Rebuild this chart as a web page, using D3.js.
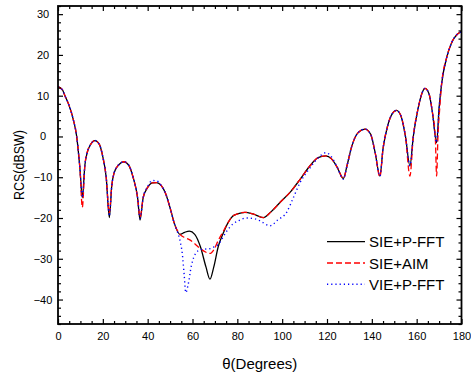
<!DOCTYPE html>
<html>
<head>
<meta charset="utf-8">
<script src="https://cdn.jsdelivr.net/npm/d3@7"></script>
<style>
  body { margin: 0; background: #fff; }
  text { font-family: "Liberation Sans", Arial, sans-serif; fill: #000; }
</style>
</head>
<body>
<svg id="chart"></svg>
<script>
// angles (degrees) and RCS values (dBsw)
let thetaSie = [0, 2, 3.1, 5, 6.8, 8.3, 9.8, 10.85, 12, 13, 14.5, 16.5, 18.5, 20, 21.5, 22.9, 24, 25, 27, 29.4, 31.5, 33.5, 35.5, 36.6, 38, 40, 42, 44, 46, 48, 50, 52, 54.4, 56.5, 58.6, 61, 63.5, 66, 67.8, 69.5, 71.5, 73.5, 76, 78, 80, 83.4, 87, 91.6, 95, 99, 104, 108, 112, 116, 119.5, 122, 124.5, 127.3, 129, 131, 134, 137, 139.5, 141.5, 143.6, 145, 147, 149, 151, 153, 155, 157, 158.5, 160.5, 162.5, 163.7, 165.5, 167, 168.9, 170, 171.2, 173.4, 175.6, 178, 180]
let sieFft = [12.2, 11.4, 10, 7.5, 4.2, 0.15, -8, -15, -7, -4, -2, -1, -2, -5, -10, -19.9, -12, -9, -7, -6.2, -7, -10, -15, -20.5, -15, -12.5, -11.4, -11.3, -12, -14, -17.5, -21.5, -24, -23.5, -23.2, -24, -27, -32, -35, -32, -27, -24, -21, -19.5, -19, -18.6, -19, -19.9, -18.5, -16.2, -13.4, -10.5, -7.5, -5.2, -4.75, -5.5, -7.5, -10.3, -7, -2.5, 1, 1.8, 0.5, -4, -9.7, -3, 2.5, 5.5, 6.4, 5, 0, -7.2, 0, 6.5, 10.8, 11.8, 10.5, 6, -1.5, 7, 13.2, 19.4, 23, 25, 25.7]

let thetaAim = [0, 2, 3.1, 5, 6.8, 8.3, 9.8, 10.85, 12, 13, 14.5, 16.5, 18.5, 20, 21.5, 22.9, 24, 25, 27, 29.4, 31.5, 33.5, 35.5, 36.6, 38, 40, 42, 44, 46, 48, 50, 52, 54.4, 56.5, 58.6, 61, 63.5, 66, 67.8, 69.5, 71.5, 73.5, 76, 78, 80, 83.4, 87, 91.6, 95, 99, 104, 108, 112, 116, 119.5, 122, 124.5, 127.3, 129, 131, 134, 137, 139.5, 141.5, 143.6, 145, 147, 149, 151, 153, 155, 157, 158.5, 160.5, 162.5, 163.7, 165.5, 167, 168.3, 168.9, 169.5, 170.3, 171.2, 173.4, 175.6, 178, 180]
let sieAim = [12.2, 11.4, 10, 7.5, 4.2, 0.15, -8, -17.4, -7, -4, -2, -1, -2, -5, -10, -18.7, -12, -9, -7, -6.2, -7, -10, -15, -19.8, -15, -12.5, -11.4, -11.3, -12, -14, -17.5, -21.5, -24, -24.8, -25.3, -26.3, -27.5, -28.4, -28.7, -27.8, -25.5, -23.5, -21, -19.5, -19, -18.6, -19, -19.9, -18.5, -16.2, -13.4, -10.5, -7.5, -5.2, -4.75, -5.5, -7.5, -10.3, -7, -2.5, 1, 1.8, 0.5, -4, -9.9, -3, 2.5, 5.5, 6.4, 5, 0, -9.7, 0, 6.5, 10.8, 11.8, 10.5, 6, 0, -9.7, 0, 7, 13.2, 19.4, 23, 25, 25.7]

let thetaVie = [0, 2, 3.1, 5, 6.8, 8.3, 9.8, 10.85, 12, 13, 14.5, 16.5, 18.5, 20, 21.5, 22.9, 24, 25, 27, 29.4, 31.5, 33.5, 35.5, 36.6, 38, 40, 42, 44, 46, 48, 50, 52, 53, 54.4, 55.5, 56.3, 57, 58, 59.5, 61.5, 63.5, 66, 68, 70, 71.5, 73.5, 75.2, 78, 80.4, 84, 88.6, 91, 94.6, 98, 102, 105, 108, 112, 116, 119.5, 122, 124.5, 127.3, 129, 131, 134, 137, 139.5, 141.5, 143.6, 145, 147, 149, 151, 153, 155, 157, 158.5, 160.5, 162.5, 163.7, 165.5, 167, 168.9, 170, 171.2, 173.4, 175.6, 178, 180]
let vieFft = [12.2, 11.4, 10, 7.5, 4.2, 0.15, -8, -15, -7, -4, -2, -1, -2, -5, -10, -19.5, -12, -9, -7, -6.2, -7, -10, -15, -20, -15, -12.3, -10.8, -10.9, -12, -14, -17.5, -21.5, -23, -25.5, -29, -34, -38.3, -36.5, -31.7, -28.6, -27.8, -27.6, -27.5, -27, -26.5, -24.8, -23.3, -21.5, -20.7, -20, -20.3, -21, -21.9, -20.5, -18.6, -15, -11.3, -8, -5.3, -4, -5, -7.5, -10.5, -7, -2.5, 1, 1.8, 0.5, -4, -9.7, -3, 2.5, 5.5, 6.4, 5, 0, -7.2, 0, 6.5, 10.8, 11.8, 10.5, 6, -1.5, 7, 13.2, 19.4, 23, 25, 25.7]

let seriesNames = ['SIE+P-FFT', 'SIE+AIM', 'VIE+P-FFT']
let yTickValues = [30, 20, 10, 0, -10, -20, -30, -40]
let xTickValues = [0, 20, 40, 60, 80, 100, 120, 140, 160, 180]

let width = 471
let height = 377
let padLeft = 58
let padRight = 461.5
let padTop = 6
let padBottom = 324

let svg = d3.select('#chart')
    .attr('width', width)
    .attr('height', height)

let xScale = d3.scaleLinear().domain([0, 180]).range([padLeft, padRight])
let yScale = d3.scaleLinear().domain([-46, 32]).range([padBottom, padTop])

// clip the curves to the frame
svg.append('clipPath').attr('id', 'plotclip')
    .append('rect')
    .attr('x', padLeft).attr('y', padTop)
    .attr('width', padRight - padLeft).attr('height', padBottom - padTop)

let series = [
    {name: seriesNames[0], x: thetaSie, y: sieFft, color: '#000000', dash: null, w: 1.3},
    {name: seriesNames[1], x: thetaAim, y: sieAim, color: '#ff0000', dash: '6,3', w: 1.3},
    {name: seriesNames[2], x: thetaVie, y: vieFft, color: '#0000ff', dash: '1.2,3', w: 1.4}
]

let line = d3.line()
    .x(d => xScale(d[0]))
    .y(d => yScale(d[1]))
    .curve(d3.curveMonotoneX)

let plot = svg.append('g').attr('clip-path', 'url(#plotclip)')
series.forEach(s => {
    plot.append('path')
        .datum(s.x.map((t, i) => [t, s.y[i]]))
        .attr('fill', 'none')
        .attr('stroke', s.color)
        .attr('stroke-width', s.w)
        .attr('stroke-dasharray', s.dash)
        .attr('d', line)
})

// ticks pointing inward on all four sides
let xMinor = d3.range(0, 181, 5).filter(v => v % 20 !== 0)
let yMinor = d3.range(-46, 33, 2).filter(v => v % 10 !== 0)
let yMajor = d3.range(-40, 31, 10)

svg.append('g').attr('transform', 'translate(0,' + padBottom + ')')
    .call(d3.axisBottom(xScale).tickValues(xTickValues).tickSize(-5).tickPadding(8).tickFormat(d3.format('d')))
svg.append('g').attr('transform', 'translate(0,' + padBottom + ')')
    .call(d3.axisBottom(xScale).tickValues(xMinor).tickSize(-3).tickFormat(''))
svg.append('g').attr('transform', 'translate(0,' + padTop + ')')
    .call(d3.axisTop(xScale).tickValues(xTickValues).tickSize(-5).tickFormat(''))
svg.append('g').attr('transform', 'translate(0,' + padTop + ')')
    .call(d3.axisTop(xScale).tickValues(xMinor).tickSize(-3).tickFormat(''))

let leftAxis = svg.append('g').attr('transform', 'translate(' + padLeft + ',0)')
    .call(d3.axisLeft(yScale).tickValues(yTickValues).tickSize(-5).tickPadding(10).tickFormat(d3.format('d')))
svg.append('g').attr('transform', 'translate(' + padLeft + ',0)')
    .call(d3.axisLeft(yScale).tickValues(yMinor).tickSize(-3).tickFormat(''))
svg.append('g').attr('transform', 'translate(' + padRight + ',0)')
    .call(d3.axisRight(yScale).tickValues(yMajor).tickSize(-5).tickFormat(''))
svg.append('g').attr('transform', 'translate(' + padRight + ',0)')
    .call(d3.axisRight(yScale).tickValues(yMinor).tickSize(-3).tickFormat(''))

svg.selectAll('.domain').remove()
svg.selectAll('.tick line').attr('stroke', '#000').attr('stroke-width', 1.2)
svg.selectAll('.tick text').attr('font-size', 11).attr('fill', '#000')
    .style('font-family', '"Liberation Sans", Arial, sans-serif')
// y labels sit centred in the margin
leftAxis.selectAll('.tick text').attr('text-anchor', 'middle').attr('x', 43 - padLeft)

// frame
svg.append('rect')
    .attr('x', padLeft).attr('y', padTop)
    .attr('width', padRight - padLeft).attr('height', padBottom - padTop)
    .attr('fill', 'none').attr('stroke', '#000').attr('stroke-width', 1.8)

// axis titles
svg.append('text')
    .attr('x', (padLeft + padRight) / 2).attr('y', 363)
    .attr('text-anchor', 'middle').attr('dominant-baseline', 'central')
    .attr('font-size', 15)
    .text('θ(Degrees)')

svg.append('text')
    .attr('transform', 'translate(18,' + ((padTop + padBottom) / 2) + ') rotate(-90)')
    .attr('text-anchor', 'middle').attr('dominant-baseline', 'central')
    .attr('font-size', 15)
    .attr('textLength', 70).attr('lengthAdjust', 'spacingAndGlyphs')
    .text('RCS(dBSW)')

// legend
let legend = svg.append('g')
series.forEach((s, i) => {
    let ly = 241.7 + i * 21.3
    legend.append('line')
        .attr('x1', 327).attr('x2', 365).attr('y1', ly).attr('y2', ly)
        .attr('stroke', s.color).attr('stroke-width', s.w)
        .attr('stroke-dasharray', s.dash)
    legend.append('text')
        .attr('x', 369).attr('y', ly)
        .attr('dominant-baseline', 'central')
        .attr('font-size', 15)
        .text(s.name)
})
</script>
</body>
</html>
